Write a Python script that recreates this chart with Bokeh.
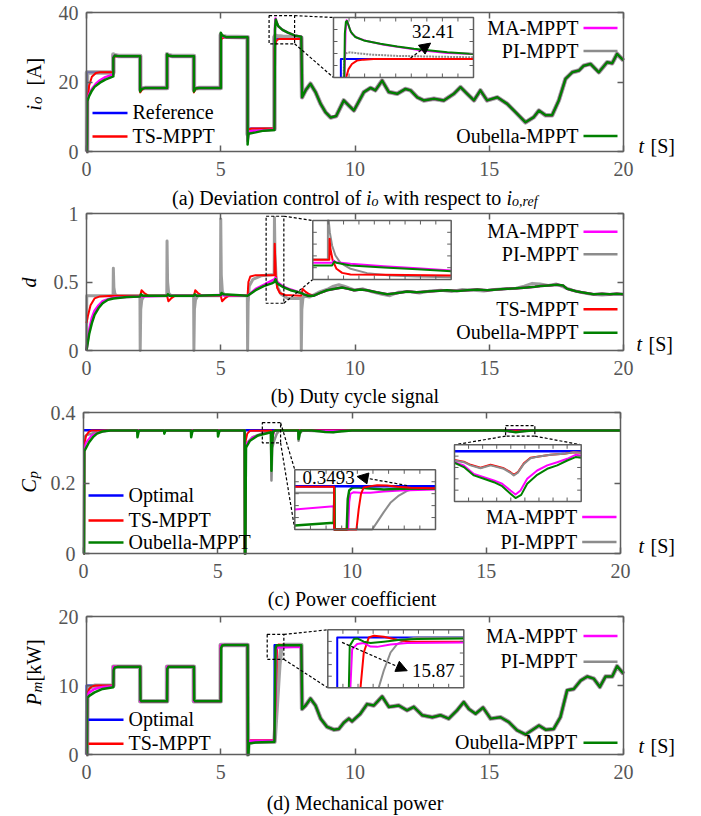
import math
from bokeh.plotting import figure
from bokeh.models import (Range1d, LinearAxis, FixedTicker, NumeralTickFormatter,
                          Label, Arrow, NormalHead)
from bokeh.embed import file_html
from bokeh.resources import INLINE

# ======================= DATA =======================
T_TICKS = [0, 5, 10, 15, 20]
A_TICKS = [0, 20, 40]
B_TICKS = [0, 0.5, 1]
C_TICKS = [0, 0.2, 0.4]
D_TICKS = [0, 10, 20]

# ---- (a) output current i_o [A] ----
A_TAIL_T = [8.03, 8.16, 8.34, 8.53, 8.72, 8.90, 9.09, 9.30, 9.58, 9.80, 9.96, 10.15, 10.33, 10.58, 10.76,
            11.01, 11.26, 11.57, 11.88, 12.07, 12.32, 12.56, 12.94, 13.31, 13.68, 13.93, 14.18, 14.43,
            14.67, 14.92, 15.30, 15.67, 15.98, 16.35, 16.66, 16.85, 17.10, 17.34, 17.59, 17.84, 18.09,
            18.34, 18.52, 18.77, 19.08, 19.39, 19.58, 19.76, 20.0]
A_TAIL_V = [15.6, 17.6, 19.5, 17.1, 13.7, 11.3, 9.8, 10.2, 14.7, 13.0, 11.8, 14.5, 17.1, 18.3, 17.6,
            20.4, 17.1, 16.6, 18.0, 17.6, 15.6, 14.7, 15.2, 14.7, 16.6, 18.5, 16.6, 14.7,
            17.6, 14.7, 15.6, 13.7, 11.3, 8.4, 9.9, 11.8, 10.4, 10.4, 14.7, 20.9, 22.8,
            23.3, 24.7, 25.2, 22.8, 25.7, 25.4, 28.1, 26.2]
A_REF_T = [0, 0.02, 0.02, 1, 1, 2, 2, 3, 3, 4, 4, 5, 5, 6, 6, 7, 7, 8]
A_REF_V = [0, 0, 22.8, 22.8, 27.5, 27.5, 18.3, 18.3, 27.5, 27.5, 18.3, 18.3, 32.9, 32.9, 6.6, 6.6, 32.41, 32.41]
A_TS_T = [0, 0.02, 0.03, 0.1, 0.2, 0.35, 0.5, 1.0, 1.0, 1.05, 1.15, 2.0, 2.0, 2.05, 2.15, 3.0, 3.0, 3.05, 3.15,
          4.0, 4.0, 4.05, 4.15, 5.0, 5.0, 5.05, 5.15, 6.0, 6.0, 6.05, 6.15, 7.0, 7.0, 7.04, 7.08, 7.12, 7.2, 8.0]
A_TS_V = [0, 0, 14.0, 19.0, 21.5, 22.6, 22.8, 22.8, 26.5, 27.3, 27.5, 27.5, 17.0, 17.6, 18.3, 18.3, 27.0, 27.6, 27.5,
          27.5, 17.0, 17.8, 18.3, 18.3, 32.0, 32.6, 32.9, 32.9, 6.0, 6.4, 6.6, 6.6, 29.6, 31.0, 31.9, 32.2, 32.41, 32.41]
A_PI_T = [0, 0.02, 0.02, 1.0, 1.0, 1.05, 1.2, 2.0, 2.0, 2.05, 2.2, 3.0, 3.0, 3.05, 3.2, 4.0, 4.0, 4.05, 4.2,
          5.0, 5.0, 5.05, 5.2, 6.0, 6.0, 6.05, 6.3, 6.7, 7.0, 7.0, 7.03, 7.1, 7.3, 8.0]
A_PI_V = [0, 0, 22.7, 22.7, 27.9, 27.7, 27.5, 27.5, 17.8, 18.1, 18.3, 18.3, 28.0, 27.7, 27.5, 27.5, 17.8, 18.1, 18.3,
          18.3, 33.5, 33.2, 33.0, 32.9, 5.0, 5.6, 6.1, 6.4, 6.5, 32.9, 33.3, 33.2, 33.0, 32.7]
A_MA_T = [0, 0.02, 0.03, 0.1, 0.2, 0.35, 0.5, 0.7, 1.0, 1.0, 1.05, 1.2, 2.0, 2.0, 2.05, 2.2, 3.0, 3.0, 3.05, 3.2,
          4.0, 4.0, 4.05, 4.2, 5.0, 5.0, 5.05, 5.2, 6.0, 6.0, 6.04, 6.1, 6.4, 7.0, 7.02, 7.04, 7.07, 7.15, 7.3, 7.5,
          7.75, 8.0]
A_MA_V = [0, 0, 15.0, 16.5, 18.0, 19.5, 20.5, 21.4, 22.2, 27.2, 27.6, 27.4, 27.4, 17.6, 18.1, 18.3, 18.3, 27.9, 27.6, 27.4,
          27.4, 17.6, 18.2, 18.3, 18.3, 33.8, 33.2, 32.9, 32.9, 3.0, 5.4, 5.8, 6.0, 6.3, 36.0, 38.3, 37.4, 36.0, 35.0, 34.2,
          33.4, 33.0]
A_OUB_T = [0, 0.02, 0.03, 0.1, 0.2, 0.3, 0.5, 0.7, 1.0, 1.0, 1.05, 1.15, 1.3, 2.0, 2.0, 2.05, 2.2, 3.0, 3.0, 3.05,
           3.2, 4.0, 4.0, 4.05, 4.2, 5.0, 5.0, 5.05, 5.2, 6.0, 6.0, 6.03, 6.08, 6.3, 6.6, 7.0, 7.02, 7.05, 7.08, 7.15,
           7.3, 7.5, 7.75, 8.0]
A_OUB_V = [0, 0, 14.5, 16.0, 17.5, 18.6, 19.8, 20.7, 21.6, 27.0, 27.6, 27.5, 27.4, 27.4, 17.3, 18.0, 18.3, 18.3, 28.0, 27.6,
           27.4, 27.4, 17.3, 18.1, 18.3, 18.3, 34.2, 33.4, 32.9, 32.9, 2.0, 5.0, 5.2, 5.5, 6.0, 6.2, 35.0, 38.0, 37.2, 36.0,
           35.0, 34.2, 33.4, 33.0]
# inset (a)
IA_X = (6.95, 7.9)
IA_Y = (29.63, 38.63)
IA_REF_T = [7.0, 7.0, 7.9]
IA_REF_V = [29.63, 32.41, 32.41]
IA_OUB_T = [7.023, 7.027, 7.034, 7.041, 7.052, 7.068, 7.098, 7.155, 7.268, 7.382, 7.496, 7.609, 7.723, 7.9]
IA_OUB_V = [29.63, 36.20, 37.97, 38.12, 37.47, 36.46, 35.70, 35.19, 34.69, 34.28, 33.93, 33.67, 33.42, 33.17]
IA_MA_T = [7.025, 7.032, 7.039, 7.045, 7.059, 7.075, 7.109, 7.177, 7.291, 7.405, 7.518, 7.609, 7.723, 7.9]
IA_MA_V = [29.63, 36.71, 38.23, 38.02, 36.96, 36.20, 35.60, 35.09, 34.53, 34.18, 33.78, 33.57, 33.32, 33.17]
IA_PI_T = [7.018, 7.023, 7.036, 7.064, 7.109, 7.2, 7.382, 7.609, 7.9]
IA_PI_V = [29.63, 32.66, 33.27, 33.42, 33.27, 33.07, 32.87, 32.77, 32.66]
IA_TS_T = [7.036, 7.052, 7.075, 7.109, 7.155, 7.223, 7.9]
IA_TS_V = [29.63, 30.89, 31.65, 32.16, 32.31, 32.41, 32.41]
IA_NOTE = "32.41"

# ---- (b) duty cycle d ----
B_TAIL_T = [8.1, 8.25, 8.47, 8.7, 8.96, 9.25, 9.52, 9.75, 9.96, 10.2, 10.45, 10.8, 11.2, 11.6, 11.94, 12.3, 12.69,
            13.0, 13.43, 13.8, 14.18, 14.55, 14.92, 15.3, 15.67, 16.05, 16.41, 16.7, 16.91, 17.2, 17.53, 17.75, 17.9,
            18.1, 18.27, 18.6, 18.89, 19.2, 19.5, 19.75, 20.0]
B_TAIL_V = [0.41, 0.40, 0.40, 0.42, 0.44, 0.45, 0.46, 0.45, 0.44, 0.445, 0.44, 0.425, 0.41, 0.42, 0.43, 0.425, 0.43,
            0.435, 0.44, 0.435, 0.44, 0.445, 0.44, 0.445, 0.45, 0.455, 0.46, 0.465, 0.47, 0.475, 0.48, 0.475, 0.45,
            0.44, 0.43, 0.42, 0.41, 0.415, 0.41, 0.415, 0.41]
B_PI_TAIL_T = [8.1, 8.3, 8.5, 8.7, 9.0, 9.2, 9.4, 9.6, 9.8, 10.0, 10.3, 10.6, 11.0, 11.3, 11.6, 12.0, 12.4, 12.8, 13.2,
               13.6, 14.0, 14.4, 14.8, 15.2, 15.6, 16.0, 16.3, 16.6, 16.9, 17.2, 17.5, 17.8, 18.1, 18.4, 18.8, 19.2,
               19.6, 20.0]
B_PI_TAIL_V = [0.40, 0.39, 0.41, 0.43, 0.45, 0.47, 0.48, 0.47, 0.455, 0.44, 0.45, 0.43, 0.41, 0.40, 0.425, 0.43, 0.42,
               0.435, 0.44, 0.43, 0.445, 0.44, 0.435, 0.445, 0.45, 0.455, 0.47, 0.49, 0.485, 0.475, 0.485, 0.46, 0.44,
               0.425, 0.41, 0.405, 0.41, 0.41]
B_OUB_T = [0, 0.1, 0.2, 0.3, 0.45, 0.6, 0.8, 1.0, 1.5, 2.0, 2.03, 2.1, 3.0, 3.03, 3.1, 4.0, 4.03, 4.1, 5.0, 5.03,
           5.1, 6.0, 6.3, 6.6, 6.9, 7.0, 7.04, 7.1, 7.3, 7.6, 7.9, 8.0]
B_OUB_V = [0.0, 0.12, 0.20, 0.26, 0.31, 0.345, 0.37, 0.38, 0.39, 0.395, 0.41, 0.40, 0.40, 0.41, 0.40, 0.40, 0.41, 0.40,
           0.405, 0.42, 0.41, 0.40, 0.44, 0.47, 0.49, 0.50, 0.52, 0.49, 0.465, 0.44, 0.425, 0.42]
B_MA_T = [0, 0.1, 0.2, 0.3, 0.45, 0.6, 0.8, 1.0, 1.5, 2.0, 3.0, 4.0, 5.0, 6.0, 6.3, 6.6, 6.9, 7.0, 7.04, 7.1, 7.3,
          7.6, 7.9, 8.0]
B_MA_V = [0.0, 0.15, 0.24, 0.29, 0.33, 0.36, 0.375, 0.385, 0.39, 0.395, 0.40, 0.40, 0.405, 0.40, 0.45, 0.48, 0.51,
          0.52, 0.53, 0.50, 0.47, 0.445, 0.425, 0.42]
B_TS_T = [0, 0.05, 0.15, 0.3, 0.5, 1.0, 2.0, 2.05, 2.15, 2.3, 3.0, 3.05, 3.15, 3.3, 4.0, 4.05, 4.15, 4.3, 5.0, 5.05,
          5.15, 5.3, 6.0, 6.03, 6.1, 6.3, 7.0, 7.01, 7.05, 7.1, 7.2, 7.4, 8.0, 8.05, 8.15, 8.3]
B_TS_V = [0.2, 0.25, 0.33, 0.38, 0.395, 0.40, 0.40, 0.44, 0.42, 0.40, 0.40, 0.36, 0.38, 0.40, 0.40, 0.44, 0.42, 0.40,
          0.40, 0.36, 0.38, 0.40, 0.40, 0.50, 0.54, 0.55, 0.55, 0.78, 0.55, 0.46, 0.42, 0.405, 0.40, 0.45, 0.43, 0.41]
B_PI_T = [0, 0.01, 0.99, 1.0, 1.02, 1.06, 1.15, 1.99, 2.0, 2.02, 2.06, 2.15, 2.99, 3.0, 3.02, 3.06, 3.15, 3.99, 4.0,
          4.02, 4.06, 4.15, 4.99, 5.0, 5.02, 5.06, 5.15, 5.99, 6.0, 6.02, 6.06, 6.2, 6.5, 6.99, 7.0, 7.02, 7.06, 7.12,
          7.25, 7.5, 7.99, 8.0, 8.02, 8.06]
B_PI_V = [0.0, 0.40, 0.40, 0.60, 0.46, 0.41, 0.40, 0.40, 0.0, 0.30, 0.37, 0.40, 0.40, 0.80, 0.50, 0.42, 0.40, 0.40, 0.0,
          0.30, 0.37, 0.40, 0.40, 0.96, 0.55, 0.43, 0.40, 0.40, 0.0, 0.35, 0.47, 0.52, 0.545, 0.555, 0.97, 0.70, 0.54,
          0.46, 0.41, 0.38, 0.38, 0.0, 0.30, 0.38]
# inset (b)
IB_X = (6.928, 7.588)
IB_Y = (0.34, 0.98)
IB_PI_T = [6.928, 7.0, 7.0, 7.004, 7.009, 7.020, 7.036, 7.060, 7.108, 7.187, 7.298, 7.426, 7.588]
IB_PI_V = [0.557, 0.557, 0.98, 0.98, 0.853, 0.709, 0.600, 0.521, 0.456, 0.409, 0.383, 0.373, 0.365]
IB_TS_T = [6.928, 7.007, 7.008, 7.012, 7.023, 7.041, 7.068, 7.108, 7.267, 7.588]
IB_TS_V = [0.553, 0.553, 0.781, 0.673, 0.546, 0.456, 0.412, 0.394, 0.391, 0.383]
IB_MA_T = [6.928, 7.020, 7.028, 7.038, 7.108, 7.267, 7.426, 7.588]
IB_MA_V = [0.521, 0.521, 0.546, 0.528, 0.510, 0.485, 0.463, 0.438]
IB_OUB_T = [6.928, 7.020, 7.031, 7.041, 7.108, 7.267, 7.426, 7.588]
IB_OUB_V = [0.492, 0.492, 0.535, 0.521, 0.492, 0.470, 0.452, 0.430]

# ---- (c) power coefficient Cp ----
C_OPT_T = [0, 20]
C_OPT_V = [0.3493, 0.3493]
C_OUB_T = [0, 0.02, 0.03, 0.1, 0.2, 0.35, 0.5, 0.7, 1.0, 2.0, 2.01, 2.05, 2.1, 3.0, 3.01, 3.05, 4.0, 4.01, 4.05, 4.1,
           5.0, 5.01, 5.05, 5.1, 6.0, 6.01, 6.03, 6.05, 6.2, 6.5, 6.98, 7.0, 7.02, 7.06, 7.15, 8.0, 8.01, 8.05, 8.1,
           8.5, 8.8, 9.0, 9.3, 9.6, 10.0, 15.5, 15.8, 16.1, 16.3, 16.7, 20.0]
C_OUB_V = [0, 0, 0.29, 0.30, 0.315, 0.33, 0.34, 0.346, 0.349, 0.349, 0.33, 0.345, 0.349, 0.349, 0.34, 0.349, 0.349,
           0.33, 0.345, 0.349, 0.349, 0.332, 0.345, 0.349, 0.349, 0.0, 0.0, 0.30, 0.32, 0.335, 0.344, 0.235, 0.30,
           0.345, 0.349, 0.349, 0.325, 0.34, 0.349, 0.349, 0.347, 0.345, 0.344, 0.347, 0.349, 0.349, 0.348, 0.344,
           0.346, 0.349, 0.349]
C_PI_T = [0, 0.02, 0.03, 0.1, 0.3, 0.6, 1.0, 6.0, 6.01, 6.03, 6.05, 6.3, 6.7, 6.98, 7.0, 7.03, 7.1, 7.2, 7.3, 8.0,
          8.01, 8.05, 8.15, 9.0, 9.3, 9.6, 10.0, 15.6, 15.9, 16.15, 16.4, 16.7, 20.0]
C_PI_V = [0, 0, 0.33, 0.335, 0.34, 0.347, 0.349, 0.349, 0.0, 0.0, 0.31, 0.33, 0.342, 0.346, 0.207, 0.30, 0.32, 0.34,
          0.349, 0.349, 0.32, 0.34, 0.349, 0.346, 0.345, 0.347, 0.349, 0.348, 0.346, 0.3455, 0.348, 0.349, 0.349]
C_TS_T = [0, 0.02, 0.03, 0.1, 0.2, 0.3, 6.0, 6.01, 6.02, 6.04, 6.1, 6.2, 7.0, 7.01, 7.03, 7.1, 7.2, 20.0]
C_TS_V = [0, 0, 0.31, 0.335, 0.345, 0.349, 0.349, 0.0, 0.0, 0.32, 0.34, 0.348, 0.349, 0.30, 0.33, 0.349, 0.3495, 0.349]
C_MA_T = [0, 0.02, 0.03, 0.1, 0.3, 0.6, 1.0, 6.0, 6.01, 6.03, 6.04, 6.3, 6.7, 7.0, 7.01, 7.04, 7.1, 7.2, 15.6, 15.9,
          16.15, 16.4, 16.7, 20.0]
C_MA_V = [0, 0, 0.30, 0.315, 0.335, 0.345, 0.349, 0.349, 0.0, 0.0, 0.31, 0.33, 0.34, 0.343, 0.28, 0.33, 0.347, 0.348,
          0.348, 0.346, 0.3445, 0.347, 0.349, 0.349]
# inset (c) left
IC1_X = (6.808, 7.488)
IC1_Y = (0.300, 0.368)
IC1_OPT_T = [6.808, 7.488]
IC1_OPT_V = [0.3493, 0.3493]
IC1_PI_T = [6.808, 6.998, 6.998, 7.182, 7.206, 7.238, 7.270, 7.311, 7.351, 7.399, 7.488]
IC1_PI_V = [0.3418, 0.3418, 0.300, 0.300, 0.3084, 0.3198, 0.3304, 0.3387, 0.3441, 0.3471, 0.3486]
IC1_MA_T = [6.808, 6.996, 6.998, 7.066, 7.071, 7.077, 7.093, 7.125, 7.174, 7.238, 7.319, 7.488]
IC1_MA_V = [0.3228, 0.3266, 0.300, 0.300, 0.3311, 0.3406, 0.3425, 0.3418, 0.3418, 0.3433, 0.3444, 0.3456]
IC1_OUB_T = [6.808, 6.996, 7.0, 7.001, 7.059, 7.064, 7.071, 7.085, 7.109, 7.158, 7.238, 7.319, 7.488]
IC1_OUB_V = [0.3046, 0.3076, 0.3482, 0.300, 0.300, 0.3349, 0.3444, 0.3475, 0.3482, 0.3471, 0.3456, 0.3463, 0.3467]
IC1_TS_T = [6.808, 6.998, 6.999, 7.106, 7.117, 7.128, 7.141, 7.174, 7.206, 7.254, 7.303, 7.367, 7.488]
IC1_TS_V = [0.3486, 0.3486, 0.300, 0.300, 0.3236, 0.3406, 0.3479, 0.3494, 0.3505, 0.3501, 0.3486, 0.3475, 0.3471]
IC1_NOTE = "0.3493"
# inset (c) right
IC2_X = (15.6, 16.7)
IC2_Y = (0.3227, 0.3527)
IC2_OPT_T = [15.6, 16.7]
IC2_OPT_V = [0.3493, 0.3493]
IC2_PI_T = [15.600, 15.681, 15.739, 15.826, 15.913, 15.971, 16.028, 16.086, 16.115, 16.150, 16.202, 16.260, 16.347,
            16.434, 16.550, 16.636, 16.700]
IC2_PI_V = [0.3444, 0.3435, 0.3418, 0.3403, 0.3418, 0.3409, 0.3400, 0.3379, 0.3365, 0.3379, 0.3426, 0.3456, 0.3467,
            0.3474, 0.3479, 0.3488, 0.3485]
IC2_TS_V = [0.3447, 0.3438, 0.3421, 0.3406, 0.3421, 0.3412, 0.3403, 0.3382, 0.3368, 0.3382, 0.3429, 0.3458, 0.3467,
            0.3474, 0.3479, 0.3488, 0.3485]
IC2_MA_T = [15.600, 15.681, 15.768, 15.855, 15.942, 16.014, 16.086, 16.130, 16.173, 16.231, 16.318, 16.405, 16.492,
            16.579, 16.651, 16.700]
IC2_MA_V = [0.3435, 0.3418, 0.3373, 0.3356, 0.3338, 0.3321, 0.3285, 0.3264, 0.3285, 0.3347, 0.3391, 0.3418, 0.3435,
            0.3453, 0.3474, 0.3471]
IC2_OUB_T = [15.600, 15.681, 15.768, 15.855, 15.942, 16.014, 16.086, 16.130, 16.179, 16.231, 16.318, 16.405, 16.492,
             16.579, 16.651, 16.700]
IC2_OUB_V = [0.3432, 0.3409, 0.3365, 0.3347, 0.3329, 0.3308, 0.3268, 0.3245, 0.3262, 0.3321, 0.3368, 0.3400, 0.3418,
             0.3444, 0.3462, 0.3458]

# ---- (d) mechanical power Pm [kW] ----
D_TAIL_T = [8.03, 8.16, 8.34, 8.53, 8.72, 8.96, 9.21, 9.40, 9.58, 9.77, 9.89, 10.2, 10.45, 10.7, 11.01, 11.26, 11.63,
            11.94, 12.19, 12.5, 12.88, 13.18, 13.49, 13.8, 14.05, 14.24, 14.49, 14.77, 15.05, 15.42, 15.73, 16.04,
            16.35, 16.66, 16.85, 17.1, 17.4, 17.65, 17.9, 18.15, 18.4, 18.65, 18.89, 19.12, 19.33, 19.58, 19.76, 20.0]
D_TAIL_V = [6.6, 7.1, 8.1, 7.1, 5.2, 4.0, 3.6, 3.7, 4.6, 5.2, 4.8, 5.9, 7.3, 7.1, 8.4, 6.9, 7.1,
            6.4, 6.9, 5.7, 5.4, 5.7, 5.2, 6.4, 7.6, 6.6, 5.9, 6.8, 5.2, 5.4, 4.7, 3.5,
            2.9, 3.7, 4.2, 3.6, 3.7, 5.4, 9.3, 9.5, 10.7, 11.3, 11.0, 9.8, 11.3, 11.3, 12.8, 11.7]
D_OPT_T = [0, 0.0, 1, 1, 2, 2, 3, 3, 4, 4, 5, 5, 6, 6, 7, 7, 8]
D_OPT_V = [0, 10, 10, 12.7, 12.7, 7.7, 7.7, 12.7, 12.7, 7.7, 7.7, 15.87, 15.87, 1.85, 1.85, 15.87, 15.87]
D_OUB_T = [0, 0.02, 0.03, 0.1, 0.3, 0.6, 1.0, 1.01, 1.05, 1.15, 2.0, 2.01, 2.05, 3.0, 3.01, 3.05, 4.0, 4.01, 4.05,
           5.0, 5.01, 5.05, 5.15, 6.0, 6.01, 6.03, 6.05, 6.3, 7.0, 7.04, 7.08, 7.15, 8.0]
D_OUB_V = [0, 0, 8.2, 8.5, 9.0, 9.5, 9.75, 12.2, 12.6, 12.7, 12.7, 7.9, 7.7, 7.7, 12.4, 12.7, 12.7, 7.9, 7.7,
           7.7, 15.4, 15.8, 15.87, 15.87, 0.0, 0.0, 1.6, 1.75, 1.85, 15.4, 15.8, 15.85, 15.85]
D_TS_T = [0, 0.02, 0.03, 0.1, 0.2, 0.35, 1.0, 1.0, 2.0, 2.0, 3.0, 3.0, 4.0, 4.0, 5.0, 5.0, 6.0, 6.01, 6.03, 6.1,
          7.0, 7.1, 7.15, 8.0]
D_TS_V = [0, 0, 8.8, 9.5, 9.9, 10.0, 10.0, 12.7, 12.7, 7.7, 7.7, 12.7, 12.7, 7.7, 7.7, 15.87, 15.87, 0.0, 1.9, 2.05,
          2.05, 15.5, 15.95, 15.7]
D_MA_T = [0, 0.02, 0.03, 0.1, 0.3, 0.6, 1.0, 1.0, 2.0, 2.0, 3.0, 3.0, 4.0, 4.0, 5.0, 5.0, 6.0, 6.01, 6.03, 6.1,
          7.0, 7.06, 7.1, 8.0]
D_MA_V = [0, 0, 8.5, 9.0, 9.5, 9.8, 9.9, 12.7, 12.7, 7.7, 7.7, 12.7, 12.7, 7.7, 7.7, 15.87, 15.87, 0.0, 1.8, 2.0,
          2.0, 15.2, 15.5, 15.6]
D_PI_T = [0, 0.02, 0.03, 0.1, 0.3, 1.0, 1.0, 2.0, 2.0, 3.0, 3.0, 4.0, 4.0, 5.0, 5.0, 6.0, 6.01, 6.03, 6.2, 7.0,
          7.18, 7.25, 7.35, 8.0]
D_PI_V = [0, 0, 9.2, 9.7, 9.95, 10.0, 12.7, 12.7, 7.7, 7.7, 12.7, 12.7, 7.7, 7.7, 15.87, 15.87, 0.0, 1.7, 1.85, 1.85,
          13.0, 15.2, 15.87, 15.87]
# inset (d)
ID_X = (6.957, 7.577)
ID_Y = (12.83, 16.33)
ID_OPT_T = [7.0, 7.0, 7.577]
ID_OPT_V = [12.83, 15.87, 15.87]
ID_OUB_T = [7.053, 7.057, 7.076, 7.091, 7.121, 7.152, 7.212, 7.288, 7.364, 7.577]
ID_OUB_V = [12.83, 15.36, 15.77, 15.81, 15.61, 15.53, 15.61, 15.73, 15.77, 15.81]
ID_MA_T = [7.060, 7.068, 7.091, 7.121, 7.152, 7.182, 7.243, 7.319, 7.577]
ID_MA_V = [12.83, 15.16, 15.47, 15.53, 15.32, 15.30, 15.44, 15.53, 15.57]
ID_TS_T = [7.106, 7.121, 7.144, 7.167, 7.212, 7.273, 7.334, 7.577]
ID_TS_V = [12.83, 14.96, 15.87, 15.97, 15.91, 15.73, 15.61, 15.61]
ID_PI_T = [7.189, 7.212, 7.243, 7.273, 7.319, 7.364, 7.577]
ID_PI_V = [12.83, 13.86, 14.96, 15.47, 15.77, 15.87, 15.87]
ID_NOTE = "15.87"

# ======================= STYLE / LAYOUT =======================
SERIF = "Liberation Serif"
FRAME = "#5e5e5e"
TICKC = "#555555"
BLUE = "#0000ff"
RED = "#ff0000"
MAG = "#ff00ff"
GRAY = "#8c8c8c"
GREEN = "#008000"

W = 701
H = 816

# plot boxes in canvas pixels (left, right, top, bottom) and value ranges
FR = {
    "a": dict(left=86, right=623, top=12, bottom=151, y0=0, y1=40, ticks=A_TICKS),
    "b": dict(left=86, right=623, top=213, bottom=350, y0=0, y1=1, ticks=B_TICKS),
    "c": dict(left=83, right=620, top=412, bottom=553, y0=0, y1=0.4, ticks=C_TICKS),
    "d": dict(left=86, right=623, top=616, bottom=754, y0=0, y1=20, ticks=D_TICKS),
}


def x_range_for(p0, p1, v0, v1):
    k = (v1 - v0) / (p1 - p0)
    return Range1d(v0 - p0 * k, v0 + (W - p0) * k)


def y_range_for(ptop, pbot, v0, v1):
    k = (v1 - v0) / (pbot - ptop)
    return Range1d(v0 - (H - pbot) * k, v0 + pbot * k)


def px2d(fr, px, py):
    x = (px - fr["left"]) / (fr["right"] - fr["left"]) * 20.0
    y = fr["y0"] + (fr["bottom"] - py) / (fr["bottom"] - fr["top"]) * (fr["y1"] - fr["y0"])
    return x, y


# one canvas; the default ranges are canvas pixels (y downwards)
p = figure(width=W, height=H, min_border=0, x_range=Range1d(0, W), y_range=Range1d(H, 0),
           x_axis_type=None, y_axis_type=None, output_backend="svg", toolbar_location=None, title=None)
p.grid.visible = False
p.outline_line_color = None
p.background_fill_color = "white"
p.border_fill_color = "white"

for name, fr in FR.items():
    p.extra_x_ranges[name] = x_range_for(fr["left"], fr["right"], 0, 20)
    p.extra_y_ranges[name] = y_range_for(fr["top"], fr["bottom"], fr["y0"], fr["y1"])


def style_axis(ax, show):
    ax.axis_line_color = FRAME
    ax.axis_line_width = 1.5
    ax.major_tick_in = 6
    ax.major_tick_out = 0
    ax.major_tick_line_color = FRAME
    ax.major_tick_line_width = 1.5
    ax.minor_tick_line_color = None
    ax.major_label_text_font = SERIF
    ax.major_label_text_font_size = "20px"
    ax.major_label_text_color = TICKC if show else None


for name, fr in FR.items():
    rn = dict(x_range_name=name, y_range_name=name)
    below = LinearAxis(ticker=FixedTicker(ticks=T_TICKS), fixed_location=fr["y0"], bounds=(0, 20), **rn)
    style_axis(below, True)
    below.major_label_standoff = 10
    p.add_layout(below, "below")
    above = LinearAxis(ticker=FixedTicker(ticks=T_TICKS), fixed_location=fr["y1"], bounds=(0, 20), **rn)
    style_axis(above, False)
    p.add_layout(above, "above")
    left = LinearAxis(ticker=FixedTicker(ticks=fr["ticks"]), formatter=NumeralTickFormatter(format="0.[0]"),
                      fixed_location=0, bounds=(fr["y0"], fr["y1"]), **rn)
    style_axis(left, True)
    left.major_label_standoff = 8
    p.add_layout(left, "left")
    right = LinearAxis(ticker=FixedTicker(ticks=fr["ticks"]), fixed_location=20, bounds=(fr["y0"], fr["y1"]), **rn)
    style_axis(right, False)
    p.add_layout(right, "right")


def lab(px, py, text, size=20, style="normal", align="left", baseline="middle", angle=0.0):
    p.add_layout(Label(x=px, y=py, text=text, text_font=SERIF, text_font_size="%dpx" % size,
                       text_font_style=style, text_align=align, text_baseline=baseline,
                       angle=angle, text_color="black"))


def draw(name, t, v, color, w, **kw):
    p.line(t, v, line_color=color, line_width=w, line_join="round", x_range_name=name, y_range_name=name, **kw)


def leg_left(items, lx0, lx1, tx):
    for text, color, py in items:
        p.line([lx0, lx1], [py + 1, py + 1], line_color=color, line_width=2.5)
        lab(tx, py, text)


def leg_right(items, tx, lx0, lx1):
    for text, color, py in items:
        p.line([lx0, lx1], [py + 0.5, py + 0.5], line_color=color, line_width=2.5)
        lab(tx, py, text, align="right")


def t_label(px, py):
    lab(px, py, "t", style="italic")
    lab(px + 12, py, "[S]")


def inset(name, box, xr, yr):
    # box: (x_left, x_right, y_top, y_bottom) in canvas pixels
    p.extra_x_ranges[name] = x_range_for(box[0], box[1], xr[0], xr[1])
    p.extra_y_ranges[name] = y_range_for(box[2], box[3], yr[0], yr[1])
    p.quad(left=[xr[0]], right=[xr[1]], bottom=[yr[0]], top=[yr[1]], fill_color="white",
           line_color=None, x_range_name=name, y_range_name=name)


def inset_frame(name, box, xr, yr, nx=9, ny=5):
    p.quad(left=[xr[0]], right=[xr[1]], bottom=[yr[0]], top=[yr[1]], fill_color=None,
           line_color=FRAME, line_width=1.5, x_range_name=name, y_range_name=name)
    lx = 4.0 / (box[1] - box[0]) * (xr[1] - xr[0])
    ly = 4.0 / (box[3] - box[2]) * (yr[1] - yr[0])
    x0s, y0s, x1s, y1s = [], [], [], []
    for k in range(1, nx):
        xk = xr[0] + k * (xr[1] - xr[0]) / nx
        x0s += [xk, xk]
        x1s += [xk, xk]
        y0s += [yr[0], yr[1]]
        y1s += [yr[0] + ly, yr[1] - ly]
    for k in range(1, ny):
        yk = yr[0] + k * (yr[1] - yr[0]) / ny
        y0s += [yk, yk]
        y1s += [yk, yk]
        x0s += [xr[0], xr[1]]
        x1s += [xr[0] + lx, xr[1] - lx]
    p.segment(x0=x0s, y0=y0s, x1=x1s, y1=y1s, line_color=FRAME, line_width=1,
              x_range_name=name, y_range_name=name)


def zoom_rect(name, rect, box, links):
    fr = FR[name]
    p.quad(left=[rect[0]], right=[rect[1]], bottom=[rect[2]], top=[rect[3]], fill_color=None,
           line_color="black", line_width=1.2, line_dash="3 2", x_range_name=name, y_range_name=name)
    bc = dict(bl=px2d(fr, box[0], box[3]), br=px2d(fr, box[1], box[3]),
              tl=px2d(fr, box[0], box[2]), tr=px2d(fr, box[1], box[2]))
    rc = dict(bl=(rect[0], rect[2]), br=(rect[1], rect[2]), tl=(rect[0], rect[3]), tr=(rect[1], rect[3]))
    for a, b in links:
        p.segment(x0=[rc[a][0]], y0=[rc[a][1]], x1=[bc[b][0]], y1=[bc[b][1]], line_color="black",
                  line_width=1.2, line_dash="3 2", x_range_name=name, y_range_name=name)


def note_arrow(name, xs, ys, xe, ye):
    p.add_layout(Arrow(x_start=xs, y_start=ys, x_end=xe, y_end=ye, line_color="black", line_width=1.2,
                       line_dash="3 2", x_range_name=name, y_range_name=name,
                       end=NormalHead(size=11, fill_color="black", line_color="black")))


def note_text(name, x, y, text, align="center"):
    p.add_layout(Label(x=x, y=y, text=text, text_font=SERIF, text_font_size="19px", text_align=align,
                       text_baseline="middle", x_range_name=name, y_range_name=name, text_color="black"))


HALF_PI = math.pi / 2

# ======================= PANEL (a) =======================
draw("a", A_REF_T + A_TAIL_T, A_REF_V + A_TAIL_V, BLUE, 2)
draw("a", A_PI_T + A_TAIL_T, A_PI_V + A_TAIL_V, GRAY, 4.5, line_alpha=0.8)
draw("a", A_TS_T + A_TAIL_T, A_TS_V + A_TAIL_V, RED, 2)
draw("a", A_MA_T + A_TAIL_T, A_MA_V + A_TAIL_V, MAG, 2.5)
draw("a", A_OUB_T + A_TAIL_T, A_OUB_V + A_TAIL_V, GREEN, 2.5)
BOX_A = (333, 473, 17, 77)
zoom_rect("a", (6.8, 7.75, 31.0, 39.1), BOX_A, [("tr", "tl"), ("br", "bl")])
inset("ia", BOX_A, IA_X, IA_Y)
draw("ia", IA_REF_T, IA_REF_V, BLUE, 2)
draw("ia", IA_PI_T, IA_PI_V, GRAY, 2, line_dash="2 1")
draw("ia", IA_TS_T, IA_TS_V, RED, 2)
draw("ia", IA_MA_T, IA_MA_V, MAG, 2)
draw("ia", IA_OUB_T, IA_OUB_V, GREEN, 2)
inset_frame("ia", BOX_A, IA_X, IA_Y)
note_arrow("ia", 7.473, 32.56, 7.609, 34.79)
note_text("ia", 7.627, 36.46, IA_NOTE)
leg_left([("Reference", BLUE, 111.5), ("TS-MPPT", RED, 135)], 92, 127, 132)
leg_right([("MA-MPPT", MAG, 27), ("PI-MPPT", GRAY, 50), ("Oubella-MPPT", GREEN, 135)], 578, 583, 617)
t_label(638, 145)
lab(33, 110, "i", style="italic", baseline="alphabetic", angle=HALF_PI)
lab(36, 103.5, "o", size=15, style="italic", baseline="alphabetic", angle=HALF_PI)
lab(33, 85, "[A]", baseline="alphabetic", angle=HALF_PI)
lab(171.5, 197, "(a) Deviation control of")
lab(365.5, 197, "i", style="italic")
lab(371.1, 201, "o", size=14, style="italic")
lab(383.1, 197, "with respect to")
lab(505.9, 197, "i", style="italic")
lab(511.5, 201, "o,ref", size=14, style="italic")

# ======================= PANEL (b) =======================
draw("b", B_PI_T + B_PI_TAIL_T, B_PI_V + B_PI_TAIL_V, GRAY, 3, line_alpha=0.85)
draw("b", B_TS_T + B_TAIL_T[2:], B_TS_V + B_TAIL_V[2:], RED, 2)
draw("b", B_MA_T + B_TAIL_T, B_MA_V + B_TAIL_V, MAG, 2.5)
draw("b", B_OUB_T + B_TAIL_T, B_OUB_V + B_TAIL_V, GREEN, 2.5)
BOX_B = (312.3, 450.7, 220, 279)
zoom_rect("b", (6.69, 7.35, 0.345, 0.98), BOX_B, [("tr", "tl"), ("br", "bl")])
inset("ib", BOX_B, IB_X, IB_Y)
draw("ib", IB_PI_T, IB_PI_V, GRAY, 2)
draw("ib", IB_TS_T, IB_TS_V, RED, 2)
draw("ib", IB_MA_T, IB_MA_V, MAG, 2)
draw("ib", IB_OUB_T, IB_OUB_V, GREEN, 2)
inset_frame("ib", BOX_B, IB_X, IB_Y)
leg_right([("MA-MPPT", MAG, 230.7), ("PI-MPPT", GRAY, 253.3), ("TS-MPPT", RED, 308.3),
           ("Oubella-MPPT", GREEN, 331.7)], 578, 583, 617)
t_label(636, 343)
lab(28, 287, "d", style="italic", baseline="alphabetic", angle=HALF_PI)
lab(354.5, 395, "(b) Duty cycle signal", align="center")

# ======================= PANEL (c) =======================
draw("c", C_OPT_T, C_OPT_V, BLUE, 2.5)
draw("c", C_PI_T, C_PI_V, GRAY, 2.5)
draw("c", C_TS_T, C_TS_V, RED, 2)
draw("c", C_MA_T, C_MA_V, MAG, 2)
draw("c", C_OUB_T, C_OUB_V, GREEN, 2.5)
BOX_C1 = (294.3, 435, 469.3, 529)
BOX_C2 = (454, 580.7, 444.3, 501)
zoom_rect("c", (6.66, 7.34, 0.314, 0.371), BOX_C1, [("tr", "tl"), ("br", "bl")])
zoom_rect("c", (15.72, 16.81, 0.333, 0.363), BOX_C2, [("bl", "tl"), ("br", "tr")])
inset("ic1", BOX_C1, IC1_X, IC1_Y)
draw("ic1", IC1_PI_T, IC1_PI_V, GRAY, 2)
draw("ic1", IC1_MA_T, IC1_MA_V, MAG, 2)
draw("ic1", IC1_OUB_T, IC1_OUB_V, GREEN, 2.5)
draw("ic1", IC1_OPT_T, IC1_OPT_V, BLUE, 2.5)
draw("ic1", IC1_TS_T, IC1_TS_V, RED, 2)
inset_frame("ic1", BOX_C1, IC1_X, IC1_Y)
note_arrow("ic1", 7.351, 0.3501, 7.109, 0.3604)
note_text("ic1", 6.972, 0.3596, IC1_NOTE)
inset("ic2", BOX_C2, IC2_X, IC2_Y)
draw("ic2", IC2_OPT_T, IC2_OPT_V, BLUE, 2.5)
draw("ic2", IC2_PI_T, IC2_TS_V, RED, 2)
draw("ic2", IC2_PI_T, IC2_PI_V, GRAY, 2)
draw("ic2", IC2_MA_T, IC2_MA_V, MAG, 2)
draw("ic2", IC2_OUB_T, IC2_OUB_V, GREEN, 2)
inset_frame("ic2", BOX_C2, IC2_X, IC2_Y)
leg_left([("Optimal", BLUE, 494), ("TS-MPPT", RED, 519), ("Oubella-MPPT", GREEN, 541)], 88, 123, 128)
leg_right([("MA-MPPT", MAG, 516), ("PI-MPPT", GRAY, 541)], 576.7, 581.7, 616)
t_label(638, 545)
lab(28, 492, "C", style="italic", baseline="alphabetic", angle=HALF_PI)
lab(32, 478, "p", size=15, style="italic", baseline="alphabetic", angle=HALF_PI)
lab(351.5, 598, "(c) Power coefficient", align="center")

# ======================= PANEL (d) =======================
draw("d", D_OPT_T + D_TAIL_T, D_OPT_V + D_TAIL_V, BLUE, 2)
draw("d", D_PI_T + D_TAIL_T, D_PI_V + D_TAIL_V, GRAY, 4.5, line_alpha=0.8)
draw("d", D_TS_T + D_TAIL_T, D_TS_V + D_TAIL_V, RED, 2)
draw("d", D_MA_T + D_TAIL_T, D_MA_V + D_TAIL_V, MAG, 2.5)
draw("d", D_OUB_T + D_TAIL_T, D_OUB_V + D_TAIL_V, GREEN, 2.5)
BOX_D = (327.3, 463.3, 629.3, 687.3)
zoom_rect("d", (6.73, 7.35, 13.8, 17.4), BOX_D, [("tr", "tl"), ("br", "bl")])
inset("id", BOX_D, ID_X, ID_Y)
draw("id", ID_OPT_T, ID_OPT_V, BLUE, 2)
draw("id", ID_PI_T, ID_PI_V, GRAY, 2)
draw("id", ID_TS_T, ID_TS_V, RED, 2)
draw("id", ID_MA_T, ID_MA_V, MAG, 2)
draw("id", ID_OUB_T, ID_OUB_V, GREEN, 2)
inset_frame("id", BOX_D, ID_X, ID_Y)
note_arrow("id", 7.022, 15.57, 7.319, 13.86)
note_text("id", 7.341, 13.86, ID_NOTE, align="left")
leg_left([("Optimal", BLUE, 718.3), ("TS-MPPT", RED, 742.3)], 88, 123, 128)
leg_right([("MA-MPPT", MAG, 635), ("PI-MPPT", GRAY, 660.7), ("Oubella-MPPT", GREEN, 741.7)], 576.7, 583, 617)
t_label(638, 745)
lab(33, 705, "P", style="italic", baseline="alphabetic", angle=HALF_PI)
lab(36, 692, "m", size=15, style="italic", baseline="alphabetic", angle=HALF_PI)
lab(33, 681, "[kW]", baseline="alphabetic", angle=HALF_PI)
lab(354.5, 802, "(d) Mechanical power", align="center")

open("out.html", "w").write(file_html(p, INLINE))
